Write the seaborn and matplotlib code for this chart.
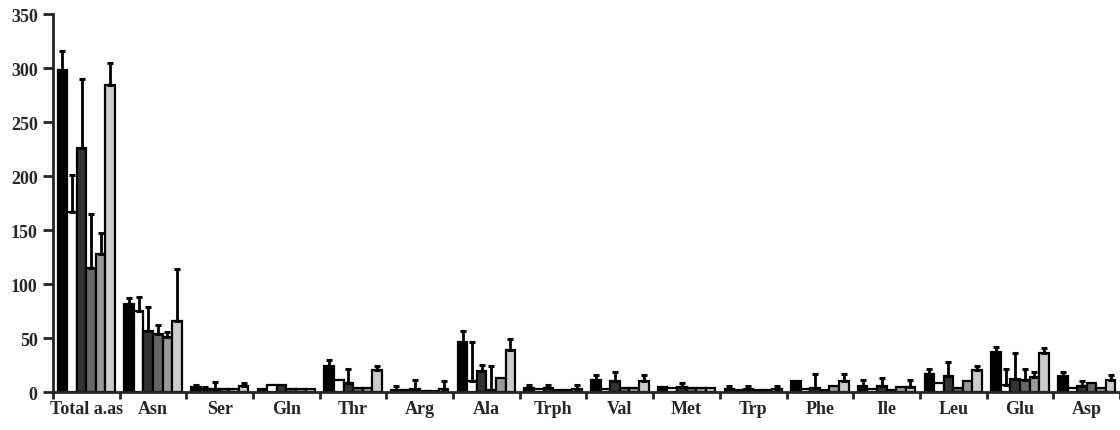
import matplotlib
matplotlib.use("Agg")
import matplotlib.pyplot as plt
import pandas as pd
import seaborn as sns
from matplotlib.ticker import FixedLocator

categories = ['Total a.as', 'Asn', 'Ser', 'Gln', 'Thr', 'Arg', 'Ala', 'Trph',
              'Val', 'Met', 'Trp', 'Phe', 'Ile', 'Leu', 'Glu', 'Asp']
groups = ['G1', 'G2', 'G3', 'G4', 'G5', 'G6']
colors = ['#000000', '#ffffff', '#333333', '#666666', '#999999', '#cccccc']

# mean values per series (one value per category)
g1 = [298, 82, 5, 3, 24, 2, 46, 4, 11, 5, 3, 10, 6, 17, 37.5, 15]
g2 = [167, 75, 3, 7, 11.5, 2, 10, 3, 3, 4, 2, 3, 3, 8.5, 6.5, 3.7]
g3 = [226, 57, 3, 7, 8.5, 2.5, 19.5, 4, 10, 5, 3, 4, 6, 14.5, 12, 5.3]
g4 = [115, 54, 3, 3, 3.7, 0.8, 2, 2, 4, 4, 2, 2, 2, 3.7, 11, 8.4]
g5 = [128, 51, 3, 3, 3.7, 1, 13, 2, 4, 4, 2, 6, 5, 10, 14.3, 4]
g6 = [284, 66, 6, 3, 20.7, 2.5, 38.5, 3, 10, 4, 3, 10, 5, 20, 36, 11]

# upper error bar lengths
e1 = [18, 5.5, 2, 0, 5.5, 4, 11, 3, 5, 0, 3, 0, 5, 4.5, 4.5, 3.5]
e2 = [34, 13, 2, 0, 0, 0, 36, 0, 0, 0, 0, 0, 0, 0, 15, 0]
e3 = [64, 22, 6.5, 0, 12.5, 9, 6, 3, 9, 3, 3, 12.5, 7, 13, 24, 4.7]
e4 = [50, 8, 0, 0, 0, 0, 22, 0, 0, 0, 0, 0, 0, 0, 10.7, 0]
e5 = [19, 5, 0, 0, 0, 0, 0, 0, 0, 0, 0, 0, 0, 0, 4.7, 0]
e6 = [21, 48, 2, 0, 3, 7.5, 10.5, 4, 6, 0, 3, 6.5, 6, 4.5, 4.5, 4.6]

values = [g1, g2, g3, g4, g5, g6]
errors = [e1, e2, e3, e4, e5, e6]

rows = []
for g, vals in zip(groups, values):
    for c, v in zip(categories, vals):
        rows.append({'cat': c, 'grp': g, 'val': v})
df = pd.DataFrame(rows)

sns.set_style("ticks")
plt.rcParams['font.family'] = ['Liberation Serif', 'DejaVu Serif']

fig = plt.figure(figsize=(11.2, 4.31), dpi=100)
ax = fig.add_axes([0.0473, 0.088, 0.9527, 0.877])

sns.barplot(data=df, x='cat', y='val', hue='grp', order=categories,
            hue_order=groups, palette=colors, width=0.86, errorbar=None,
            edgecolor='black', linewidth=1.6, legend=False, ax=ax)

for cont, errs in zip(ax.containers, errors):
    for bar, e in zip(cont, errs):
        if e <= 0:
            continue
        x = bar.get_x() + bar.get_width() / 2
        h = bar.get_height()
        ax.errorbar([x], [h], yerr=[[0], [e]], fmt='none', ecolor='black',
                    elinewidth=2, capsize=2.5, capthick=2.2)

ax.set_xlim(-0.5, len(categories) - 0.5)
ax.set_ylim(0, 350)
ax.set_yticks(range(0, 351, 50))
ax.xaxis.set_minor_locator(FixedLocator([i - 0.5 for i in range(len(categories) + 1)]))
ax.tick_params(axis='x', which='major', length=0, pad=6)
ax.tick_params(axis='x', which='minor', length=5, width=2, direction='out')
ax.tick_params(axis='y', length=7, width=2, direction='out', pad=4)
for lab in ax.get_xticklabels() + ax.get_yticklabels():
    lab.set_fontsize(13)
    lab.set_fontweight('bold')
ax.set_xlabel('')
ax.set_ylabel('')
for s in ['top', 'right']:
    ax.spines[s].set_visible(False)
ax.spines['left'].set_linewidth(2)
ax.spines['bottom'].set_linewidth(2)

fig.savefig('out.png', dpi=100)
